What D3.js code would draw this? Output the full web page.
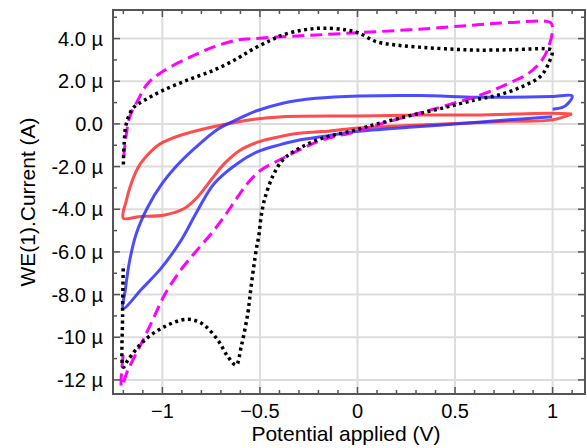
<!DOCTYPE html>
<html>
<head>
<meta charset="utf-8">
<script src="https://cdn.jsdelivr.net/npm/d3@7"></script>
<style>
  body { margin: 0; background: #fff; }
  svg { display: block; font-family: "Liberation Sans", Arial, sans-serif; }
</style>
</head>
<body>
<div id="chart"></div>
<script>
// potential (V), current (uA)
var blackDotted = [
  [-1.2, -1.9], [-1.195, -0.8], [-1.185, 0.0], [-1.15, 0.74], [-1.09, 1.12], [-1.0, 1.56],
  [-0.87, 2.06], [-0.733, 2.53], [-0.613, 3.08], [-0.537, 3.5], [-0.45, 3.9], [-0.383, 4.17],
  [-0.28, 4.4], [-0.179, 4.49], [-0.06, 4.41], [0.01, 4.25], [0.094, 3.86], [0.196, 3.7],
  [0.315, 3.6], [0.45, 3.52], [0.605, 3.46], [0.8, 3.48], [0.963, 3.52], [0.997, 3.44],
  [0.98, 2.85], [0.937, 2.22], [0.844, 1.75], [0.724, 1.36], [0.605, 1.13], [0.435, 0.74],
  [0.264, 0.375], [0.1, 0.0], [-0.008, -0.28], [-0.179, -0.67], [-0.298, -1.14], [-0.383, -1.69],
  [-0.435, -2.47], [-0.477, -3.56], [-0.494, -4.35], [-0.505, -5.2], [-0.519, -5.9], [-0.545, -7.6],
  [-0.562, -8.87], [-0.596, -10.44], [-0.622, -11.3], [-0.665, -10.9], [-0.716, -10.13], [-0.8, -9.34],
  [-0.877, -9.16], [-0.988, -9.5], [-1.09, -10.13], [-1.176, -11.06], [-1.2, -11.4], [-1.204, -9.0],
  [-1.2, -6.6]
];
var magentaDashed = [
  [-1.198, -1.53], [-1.185, -0.5], [-1.167, 0.34], [-1.125, 1.12], [-1.074, 1.91], [-1.0, 2.45],
  [-0.87, 3.08], [-0.733, 3.62], [-0.613, 3.94], [-0.528, 4.0], [-0.383, 4.09], [-0.213, 4.17],
  [0.009, 4.28], [0.264, 4.41], [0.45, 4.53], [0.605, 4.64], [0.776, 4.75], [0.989, 4.75],
  [1.0, 4.49], [0.98, 3.62], [0.946, 3.0], [0.878, 2.38], [0.776, 1.91], [0.656, 1.44],
  [0.435, 0.81], [0.264, 0.375], [0.1, -0.05], [-0.008, -0.36], [-0.179, -0.75], [-0.298, -1.22],
  [-0.4, -1.69], [-0.494, -2.16], [-0.56, -2.75], [-0.62, -3.5], [-0.68, -4.3], [-0.75, -5.15],
  [-0.83, -6.0], [-0.91, -6.9], [-0.988, -8.0], [-1.05, -9.2], [-1.107, -10.28], [-1.176, -11.53],
  [-1.21, -12.3], [-1.2, -10.7]
];
var blueLine = [
  [1.0, 0.69], [1.05, 0.77], [1.08, 0.97], [1.1, 1.31], [0.997, 1.28], [0.776, 1.25],
  [0.605, 1.25], [0.315, 1.33], [0.009, 1.31], [-0.213, 1.2], [-0.383, 0.97], [-0.528, 0.58],
  [-0.62, 0.2], [-0.716, -0.25], [-0.835, -1.15], [-0.93, -2.0], [-1.0, -2.78], [-1.074, -3.88],
  [-1.133, -5.12], [-1.167, -6.38], [-1.19, -7.78], [-1.2, -8.64], [-1.107, -7.75], [-1.005, -6.75],
  [-0.903, -5.44], [-0.818, -4.03], [-0.733, -2.78], [-0.613, -1.84], [-0.511, -1.3], [-0.4, -0.98],
  [-0.298, -0.75], [-0.179, -0.59], [-0.008, -0.36], [0.264, -0.16], [0.435, -0.05], [0.776, 0.19],
  [0.997, 0.34]
];
var redLine = [
  [1.1, 0.47], [0.997, 0.5], [0.605, 0.42], [0.315, 0.42], [0.009, 0.375], [-0.383, 0.34],
  [-0.528, 0.22], [-0.733, -0.125], [-0.903, -0.52], [-0.97, -0.75], [-1.022, -1.0], [-1.075, -1.45],
  [-1.125, -2.05], [-1.16, -2.8], [-1.185, -3.6], [-1.2, -4.42], [-1.125, -4.35], [-0.988, -4.27],
  [-0.886, -3.95], [-0.818, -3.41], [-0.75, -2.62], [-0.68, -1.84], [-0.6, -1.22], [-0.503, -0.83],
  [-0.4, -0.6], [-0.3, -0.44], [-0.179, -0.36], [-0.008, -0.2], [0.264, -0.07], [0.5, 0.02],
  [0.776, 0.12], [1.0, 0.19], [1.1, 0.47]
];
var xTicks = [-1, -0.5, 0, 0.5, 1];
var yTicks = [-12, -10, -8, -6, -4, -2, 0, 2, 4];

var width = 587, height = 448;
var margin = {left: 113, top: 10, right: 2, bottom: 54};

var svg = d3.select("#chart").append("svg")
  .attr("width", width)
  .attr("height", height);

var x = d3.scaleLinear().domain([-1.253, 1.166]).range([margin.left, width - margin.right]);
var y = d3.scaleLinear().domain([-12.66, 5.34]).range([height - margin.bottom, margin.top]);

// grid
svg.append("g").selectAll("line.gx").data(xTicks).enter().append("line")
  .attr("x1", function (d) { return x(d); }).attr("x2", function (d) { return x(d); })
  .attr("y1", y.range()[1]).attr("y2", y.range()[0])
  .attr("stroke", "#dddddd").attr("stroke-width", 2);
svg.append("g").selectAll("line.gy").data(yTicks).enter().append("line")
  .attr("y1", function (d) { return y(d); }).attr("y2", function (d) { return y(d); })
  .attr("x1", x.range()[0]).attr("x2", x.range()[1])
  .attr("stroke", "#dddddd").attr("stroke-width", 2);

// curves
var line = d3.line()
  .x(function (d) { return x(d[0]); })
  .y(function (d) { return y(d[1]); })
  .curve(d3.curveCatmullRom.alpha(0.5));

var plot = svg.append("g");
plot.append("path").datum(redLine).attr("d", line)
  .attr("fill", "none").attr("stroke", "rgb(255,45,45)").attr("stroke-opacity", 0.85)
  .attr("stroke-width", 3);
plot.append("path").datum(blueLine).attr("d", line)
  .attr("fill", "none").attr("stroke", "rgb(45,45,255)").attr("stroke-opacity", 0.85)
  .attr("stroke-width", 3);
plot.append("path").datum(magentaDashed).attr("d", line)
  .attr("fill", "none").attr("stroke", "#ff00ff")
  .attr("stroke-width", 3).attr("stroke-dasharray", "12,6");
plot.append("path").datum(blackDotted).attr("d", line)
  .attr("fill", "none").attr("stroke", "#000")
  .attr("stroke-width", 3.5).attr("stroke-dasharray", "3,3.5");

// ticks on all four sides, pointing in
var xMinor = d3.range(-12, 12).map(function (i) { return i / 10; });
var yMinor = d3.range(-12, 6);
function tickLen(v, majors) { return majors.indexOf(v) >= 0 ? 7 : 4; }

var tk = svg.append("g").attr("stroke", "#555").attr("stroke-width", 1.5);
xMinor.forEach(function (v) {
  var l = tickLen(Math.round(v * 10) / 10, xTicks);
  tk.append("line").attr("x1", x(v)).attr("x2", x(v)).attr("y1", y.range()[0]).attr("y2", y.range()[0] - l);
  tk.append("line").attr("x1", x(v)).attr("x2", x(v)).attr("y1", y.range()[1]).attr("y2", y.range()[1] + l);
});
yMinor.forEach(function (v) {
  var l = tickLen(v, yTicks);
  tk.append("line").attr("y1", y(v)).attr("y2", y(v)).attr("x1", x.range()[0]).attr("x2", x.range()[0] + l);
  tk.append("line").attr("y1", y(v)).attr("y2", y(v)).attr("x1", x.range()[1]).attr("x2", x.range()[1] - l);
});

// frame
svg.append("rect")
  .attr("x", x.range()[0]).attr("y", y.range()[1])
  .attr("width", x.range()[1] - x.range()[0])
  .attr("height", y.range()[0] - y.range()[1])
  .attr("fill", "none").attr("stroke", "#555").attr("stroke-width", 2);

// tick labels
svg.append("g").selectAll("text").data(yTicks).enter().append("text")
  .attr("x", 103).attr("y", function (d) { return y(d) + 7; })
  .attr("text-anchor", "end").attr("font-size", 20).attr("fill", "#000")
  .text(function (d) {
    if (d === 0) return "0.0";
    return (Math.abs(d) >= 10 ? d.toFixed(0) : d.toFixed(1)) + " \u00b5";
  });
svg.append("g").selectAll("text").data(xTicks).enter().append("text")
  .attr("x", function (d) { return x(d); }).attr("y", 418)
  .attr("text-anchor", "middle").attr("font-size", 20).attr("fill", "#000")
  .text(function (d) { return d3.format("")(d); });

// axis titles
svg.append("text")
  .attr("x", 346).attr("y", 441)
  .attr("text-anchor", "middle").attr("font-size", 21).attr("fill", "#000")
  .text("Potential applied (V)");
svg.append("text")
  .attr("transform", "translate(35,202) rotate(-90)")
  .attr("text-anchor", "middle").attr("font-size", 21).attr("fill", "#000")
  .text("WE(1).Current (A)");
</script>
</body>
</html>
